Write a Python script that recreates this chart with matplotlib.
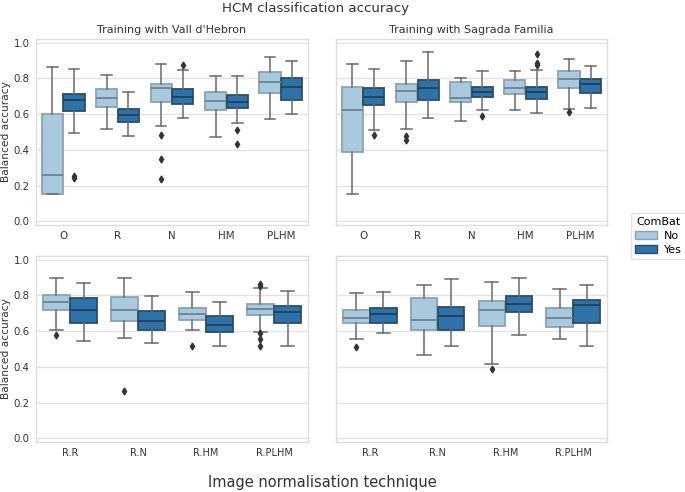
import matplotlib
matplotlib.use("Agg")
import matplotlib.pyplot as plt
from matplotlib.patches import Patch

# ---- data ------------------------------------------------------------
top_labels = ["O", "R", "N", "HM", "PLHM"]
bottom_labels = ["R.R", "R.N", "R.HM", "R.PLHM"]
hue_levels = ["No", "Yes"]

# each row: whislo, q1, med, q3, whishi
vh_no = [[0.151, 0.155, 0.257, 0.601, 0.864],
         [0.519, 0.640, 0.692, 0.743, 0.819],
         [0.535, 0.666, 0.748, 0.771, 0.882],
         [0.472, 0.621, 0.675, 0.724, 0.813],
         [0.575, 0.720, 0.782, 0.836, 0.920]]
vh_no_fliers = [[], [], [0.485, 0.349, 0.237], [], []]
vh_yes = [[0.494, 0.618, 0.681, 0.715, 0.853],
          [0.479, 0.556, 0.597, 0.629, 0.726],
          [0.576, 0.659, 0.696, 0.743, 0.845],
          [0.550, 0.636, 0.666, 0.709, 0.813],
          [0.603, 0.677, 0.752, 0.804, 0.896]]
vh_yes_fliers = [[0.254, 0.243], [], [0.877], [0.513, 0.435], []]

sf_no = [[0.153, 0.386, 0.625, 0.750, 0.882],
         [0.519, 0.666, 0.728, 0.771, 0.897],
         [0.560, 0.670, 0.692, 0.780, 0.802],
         [0.625, 0.715, 0.748, 0.793, 0.843],
         [0.629, 0.748, 0.799, 0.841, 0.907]]
sf_no_fliers = [[], [0.478, 0.458], [], [], [0.612]]
sf_yes = [[0.513, 0.651, 0.698, 0.744, 0.853],
          [0.580, 0.677, 0.748, 0.793, 0.948],
          [0.625, 0.696, 0.722, 0.754, 0.841],
          [0.606, 0.685, 0.722, 0.754, 0.849],
          [0.632, 0.720, 0.767, 0.799, 0.871]]
sf_yes_fliers = [[0.481], [], [0.592], [0.935, 0.886, 0.873], []]

vh2_no = [[0.606, 0.720, 0.763, 0.800, 0.898],
          [0.563, 0.657, 0.720, 0.789, 0.898],
          [0.606, 0.661, 0.694, 0.730, 0.817],
          [0.598, 0.691, 0.726, 0.754, 0.844]]
vh2_no_fliers = [[0.580], [0.265], [0.517], [0.861, 0.854, 0.587, 0.556, 0.515]]
vh2_yes = [[0.544, 0.646, 0.720, 0.783, 0.870],
           [0.533, 0.606, 0.656, 0.711, 0.798],
           [0.519, 0.596, 0.633, 0.687, 0.761],
           [0.519, 0.644, 0.709, 0.739, 0.822]]
vh2_yes_fliers = [[], [], [], []]

sf2_no = [[0.556, 0.648, 0.672, 0.717, 0.813],
          [0.469, 0.606, 0.661, 0.787, 0.857],
          [0.419, 0.630, 0.720, 0.770, 0.876],
          [0.554, 0.622, 0.672, 0.731, 0.833]]
sf2_no_fliers = [[0.513], [], [0.391], []]
sf2_yes = [[0.587, 0.648, 0.694, 0.728, 0.819],
           [0.515, 0.606, 0.687, 0.733, 0.894],
           [0.580, 0.709, 0.750, 0.798, 0.898],
           [0.517, 0.643, 0.746, 0.774, 0.856]]
sf2_yes_fliers = [[], [], [], []]

yticks = [0.0, 0.2, 0.4, 0.6, 0.8, 1.0]

# ---- style -----------------------------------------------------------
plt.rcParams["font.family"] = "DejaVu Sans"
FILL = {"No": "#a9c9dc", "Yes": "#2e73a7"}
EDGE = {"No": "#8aa3b2", "Yes": "#2f4c63"}
MED = {"No": "#6c8494", "Yes": "#26405a"}
LINE = "#6a6a6a"
TXT = "#333333"


def to_stats(rows, fliers):
    out = []
    for (lo, q1, med, q3, hi), fl in zip(rows, fliers):
        out.append({"whislo": lo, "q1": q1, "med": med, "q3": q3,
                    "whishi": hi, "fliers": fl})
    return out


def draw_panel(ax, labels, no_rows, no_fl, yes_rows, yes_fl, tick_size):
    n = len(labels)
    for level, rows, fl, off in (("No", no_rows, no_fl, -0.2),
                                 ("Yes", yes_rows, yes_fl, 0.2)):
        ax.bxp(to_stats(rows, fl),
               positions=[i + off for i in range(n)],
               widths=0.39, patch_artist=True, manage_ticks=False,
               boxprops=dict(facecolor=FILL[level], edgecolor=EDGE[level],
                             linewidth=1.3),
               medianprops=dict(color=MED[level], linewidth=1.3),
               whiskerprops=dict(color=LINE, linewidth=1.1),
               capprops=dict(color=LINE, linewidth=1.1),
               flierprops=dict(marker="d", markersize=3.5,
                               markerfacecolor="#333333",
                               markeredgecolor="#333333"))
    ax.set_xlim(-0.5, n - 0.5)
    ax.set_xticks(range(n))
    ax.set_xticklabels(labels, fontsize=tick_size, color=TXT)
    ax.set_ylim(-0.02, 1.02)
    ax.set_yticks(yticks)
    ax.set_yticklabels([f"{t:.1f}" for t in yticks], fontsize=7.3, color=TXT)
    ax.grid(axis="y", color="#e3e3e3", linewidth=1.0)
    ax.set_axisbelow(True)
    ax.tick_params(length=0, pad=4.5)
    for s in ax.spines.values():
        s.set_color("#dddddd")
        s.set_linewidth(1.0)


fig = plt.figure(figsize=(6.85, 4.92), dpi=100)
ax_tl = fig.add_axes([0.0526, 0.5427, 0.397, 0.378])
ax_tr = fig.add_axes([0.4905, 0.5427, 0.3956, 0.378])
ax_bl = fig.add_axes([0.0526, 0.1016, 0.397, 0.378])
ax_br = fig.add_axes([0.4905, 0.1016, 0.3956, 0.378])

draw_panel(ax_tl, top_labels, vh_no, vh_no_fliers, vh_yes, vh_yes_fliers, 7.4)
draw_panel(ax_tr, top_labels, sf_no, sf_no_fliers, sf_yes, sf_yes_fliers, 7.4)
draw_panel(ax_bl, bottom_labels, vh2_no, vh2_no_fliers, vh2_yes,
           vh2_yes_fliers, 7)
draw_panel(ax_br, bottom_labels, sf2_no, sf2_no_fliers, sf2_yes,
           sf2_yes_fliers, 7)

for ax in (ax_tr, ax_br):
    ax.set_yticklabels([])
for ax in (ax_tl, ax_bl):
    ax.set_ylabel("Balanced accuracy", fontsize=7.7, color=TXT, labelpad=2)

ax_tl.set_title("Training with Vall d'Hebron", fontsize=8, color=TXT, pad=4)
ax_tr.set_title("Training with Sagrada Familia", fontsize=8, color=TXT, pad=4)

fig.suptitle("HCM classification accuracy", fontsize=9.6, color=TXT,
             x=0.46, y=0.995)
fig.supxlabel("Image normalisation technique", fontsize=10.5, color=TXT,
              x=0.47, y=0.005)

handles = [Patch(facecolor=FILL[h], edgecolor=EDGE[h], label=h)
           for h in hue_levels]
leg = fig.legend(handles=handles, title="ComBat", loc="center left",
                 bbox_to_anchor=(0.913, 0.52), fontsize=8,
                 title_fontsize=8, frameon=True, edgecolor="#dddddd",
                 handlelength=1.9, handletextpad=0.7, borderpad=0.4,
                 labelspacing=0.35)

fig.savefig("out.png", dpi=100)
